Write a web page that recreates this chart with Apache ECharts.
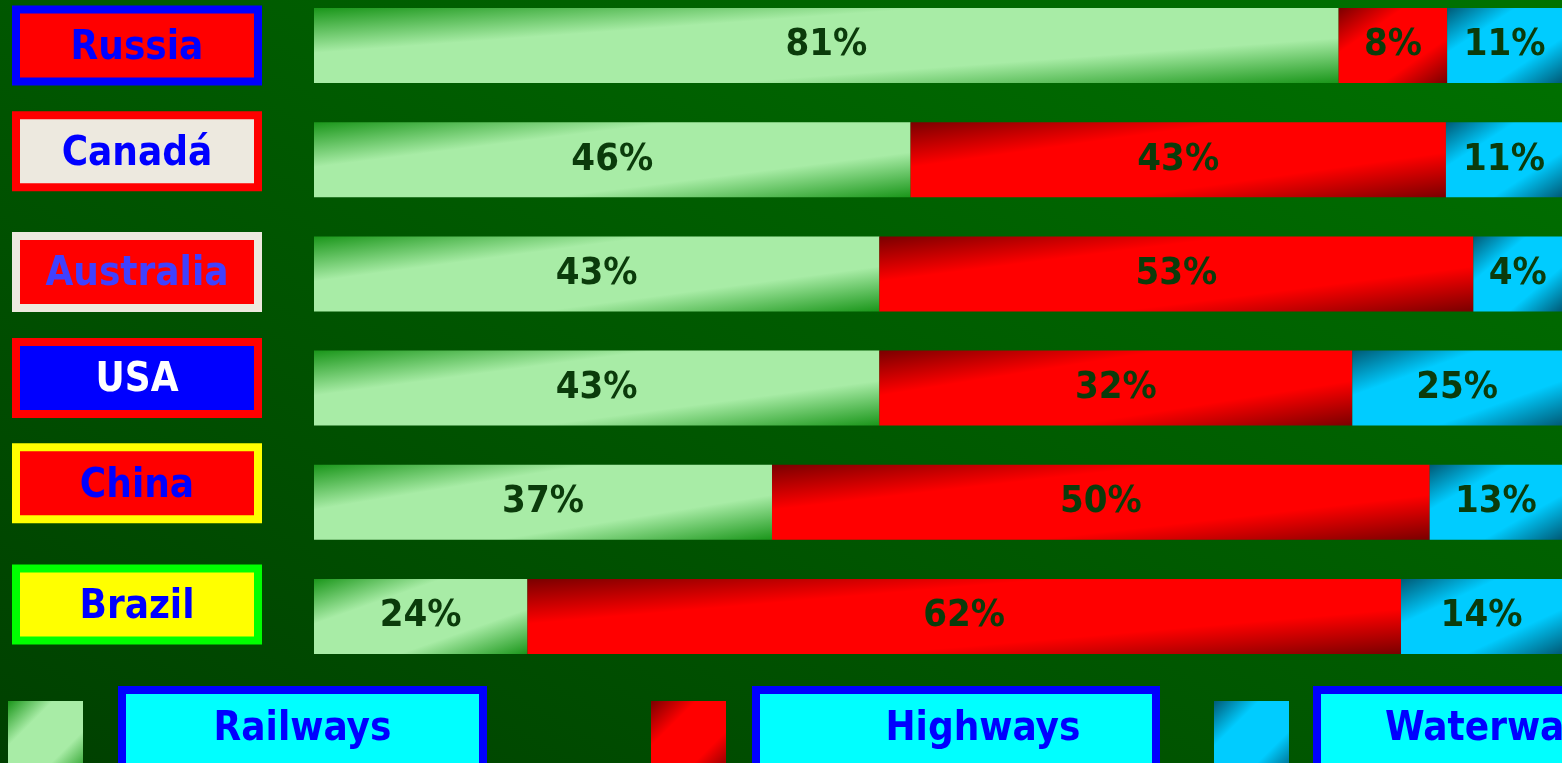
<!DOCTYPE html>
<html>
<head>
<meta charset="utf-8">
<title>Freight transport</title>
<script src="https://cdn.jsdelivr.net/npm/echarts@6/dist/echarts.min.js"></script>
<style>
  html, body { margin: 0; padding: 0; }
  #chart { width: 1562px; height: 763px; }
</style>
</head>
<body>
<div id="chart"></div>
<script>
// data (segment lengths as drawn, labels as printed)
var countries = ['Russia', 'Canadá', 'Australia', 'USA', 'China', 'Brazil'];
var modes = ['Railways', 'Highways', 'Waterways'];
var railways = [82.1, 47.8, 45.3, 45.3, 36.7, 17.1];
var highways = [8.7, 42.9, 47.6, 37.9, 52.7, 70.0];
var waterways = [9.2, 9.3, 7.1, 16.8, 10.6, 12.9];
var railLabels = ['81%', '46%', '43%', '43%', '37%', '24%'];
var highwayLabels = ['8%', '43%', '53%', '32%', '50%', '62%'];
var waterLabels = ['11%', '11%', '4%', '25%', '13%', '14%'];

var FONT = '"DejaVu Sans Condensed", "DejaVu Sans", sans-serif';
var GRID_LEFT = 314;
var BAR_H = 75;

// label box styles: [fill, border, text]
var countryBoxes = [
    ['#ff0000', '#0000ff', '#0000ff'],
    ['#ede9df', '#ff0000', '#0000ff'],
    ['#ff0000', '#ede9df', '#4040ff'],
    ['#0000ff', '#ff0000', '#ffffff'],
    ['#ff0000', '#ffff00', '#0000ff'],
    ['#ffff00', '#00ff00', '#0000ff']
];
// the boxes sit a little above their bars (invisible bottom padding)
var countryLift = [0, 17, 4, 20, 38, 24];

var palette = {
    Railways: ['#1a961a', '#a8eca6'],
    Highways: ['#7a0000', '#ff0000'],
    Waterways: ['#005a76', '#00ccff']
};

// legend placement: [left, spacer before box, box width, text indent]
var legendPlace = {
    Railways: [8, 38, 353, 0],
    Highways: [651, 29, 392, 54],
    Waterways: [1214, 27, 351, 0]
};

// diagonal gradient whose bands run corner to corner of the box
function diagGradient(dark, light, w, h) {
    var d = w * w + h * h;
    return {
        type: 'linear',
        x: 0, y: 0,
        x2: 2 * h * h / d,
        y2: 2 * w * w / d,
        colorStops: [
            {offset: 0, color: dark},
            {offset: 0.3, color: light},
            {offset: 0.7, color: light},
            {offset: 1, color: dark}
        ]
    };
}

var myChart = echarts.init(document.getElementById('chart'));
var pxPerUnit = (myChart.getWidth() - GRID_LEFT) / 100;

var countryRich = {};
countryBoxes.forEach(function (b, i) {
    countryRich['c' + i] = {
        backgroundColor: b[0],
        borderColor: b[1],
        borderWidth: 8,
        color: b[2],
        width: 234,
        height: 58,
        lineHeight: 58,
        padding: [6, 0, 0, 0],
        align: 'center',
        verticalAlign: 'middle',
        fontSize: 40,
        fontWeight: 'bold',
        fontFamily: FONT
    };
});

var countryData = countries.map(function (c, i) {
    return {value: c, textStyle: {padding: [0, 0, countryLift[i], 0]}};
});

function makeLegend(name) {
    var p = legendPlace[name];
    return {
        left: p[0],
        top: 686,
        padding: 0,
        itemWidth: 75,
        itemHeight: 75,
        icon: 'rect',
        selectedMode: false,
        data: [{name: name, itemStyle: {color: diagGradient(palette[name][0], palette[name][1], 75, 75)}}],
        formatter: '{s| }{box|{name}}',
        textStyle: {
            padding: [0, 0, 17, 0],
            rich: {
                s: {width: p[1]},
                box: {
                    backgroundColor: '#00ffff',
                    borderColor: '#0000ff',
                    borderWidth: 8,
                    color: '#0000ff',
                    width: p[2] - p[3],
                    padding: [0, 0, 0, p[3]],
                    height: 72,
                    lineHeight: 72,
                    align: 'center',
                    verticalAlign: 'middle',
                    fontSize: 40,
                    fontWeight: 'bold',
                    fontFamily: FONT
                }
            }
        }
    };
}

function makeSeries(name, values, labels) {
    var c = palette[name];
    return {
        name: name,
        type: 'bar',
        stack: 'total',
        barWidth: BAR_H,
        data: values,
        itemStyle: {
            color: function (params) {
                return diagGradient(c[0], c[1], params.value * pxPerUnit, BAR_H);
            }
        },
        label: {
            show: true,
            position: 'inside',
            formatter: function (p) { return labels[p.dataIndex]; },
            color: '#0b3b0b',
            fontSize: 38,
            fontWeight: 'bold',
            fontFamily: FONT
        },
        emphasis: {disabled: true}
    };
}

var option = {
    backgroundColor: {
        type: 'linear',
        x: 0, y: 763, x2: 689, y2: -483,
        global: true,
        colorStops: [
            {offset: 0, color: '#004000'},
            {offset: 1, color: '#007200'}
        ]
    },
    animation: false,
    grid: {
        left: GRID_LEFT,
        right: 0,
        top: -11.6,
        bottom: 89.4,
        containLabel: false,
        outerBoundsMode: 'none'
    },
    xAxis: {
        type: 'value',
        min: 0,
        max: 100,
        show: false
    },
    yAxis: {
        type: 'category',
        inverse: true,
        data: countryData,
        axisLine: {show: false},
        axisTick: {show: false},
        splitLine: {show: false},
        axisLabel: {
            interval: 0,
            margin: 60,
            formatter: function (value, index) {
                return '{c' + index + '|' + value + '}';
            },
            rich: countryRich
        }
    },
    legend: modes.map(makeLegend),
    series: [
        makeSeries('Railways', railways, railLabels),
        makeSeries('Highways', highways, highwayLabels),
        makeSeries('Waterways', waterways, waterLabels)
    ]
};

myChart.setOption(option);
</script>
</body>
</html>
